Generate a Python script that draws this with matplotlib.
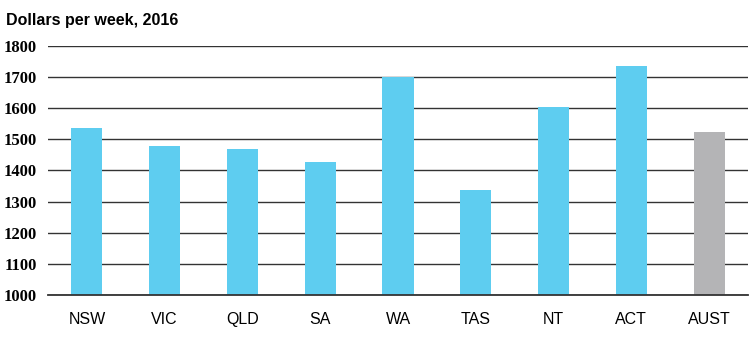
import matplotlib
matplotlib.use("Agg")
import matplotlib.pyplot as plt

# data
states = ["NSW", "VIC", "QLD", "SA", "WA", "TAS", "NT", "ACT", "AUST"]
income = [1536, 1479, 1469, 1427, 1700, 1337, 1604, 1736, 1523]
yticks = [1000, 1100, 1200, 1300, 1400, 1500, 1600, 1700, 1800]

BLUE = "#5ECDF0"
GREY = "#B4B4B6"
colors = [BLUE] * 8 + [GREY]

fig = plt.figure(figsize=(7.5, 3.44), dpi=100)
ax = fig.add_axes([48 / 750, 1 - 295 / 344, 700 / 750, 249 / 344])

x = list(range(len(states)))
ax.bar(x, [v - 1000 for v in income], bottom=1000, width=0.4, color=colors, zorder=3)

ax.set_xlim(-0.5, len(states) - 0.5)
ax.set_ylim(1000, 1800)
ax.set_yticks(yticks)
ax.set_yticklabels([str(t) for t in yticks], fontfamily="Liberation Serif",
                   fontweight="bold", fontsize=12)
ax.set_xticks(x)
ax.set_xticklabels(states, fontfamily="Liberation Sans", fontsize=11.5)

ax.grid(axis="y", color="#333333", linewidth=1.0, zorder=0)
# baseline sits over the bars
ax.axhline(1000, color="#333333", linewidth=1.3, zorder=4, clip_on=False)
ax.tick_params(axis="both", length=0)
ax.tick_params(axis="x", pad=12)
ax.tick_params(axis="y", pad=8)
for s in ax.spines.values():
    s.set_visible(False)

fig.text(6 / 750, 1 - 20 / 344, "Dollars per week, 2016", fontfamily="Liberation Sans",
         fontweight="bold", fontsize=11.5, va="center", ha="left")

fig.savefig("out.png", dpi=100)
